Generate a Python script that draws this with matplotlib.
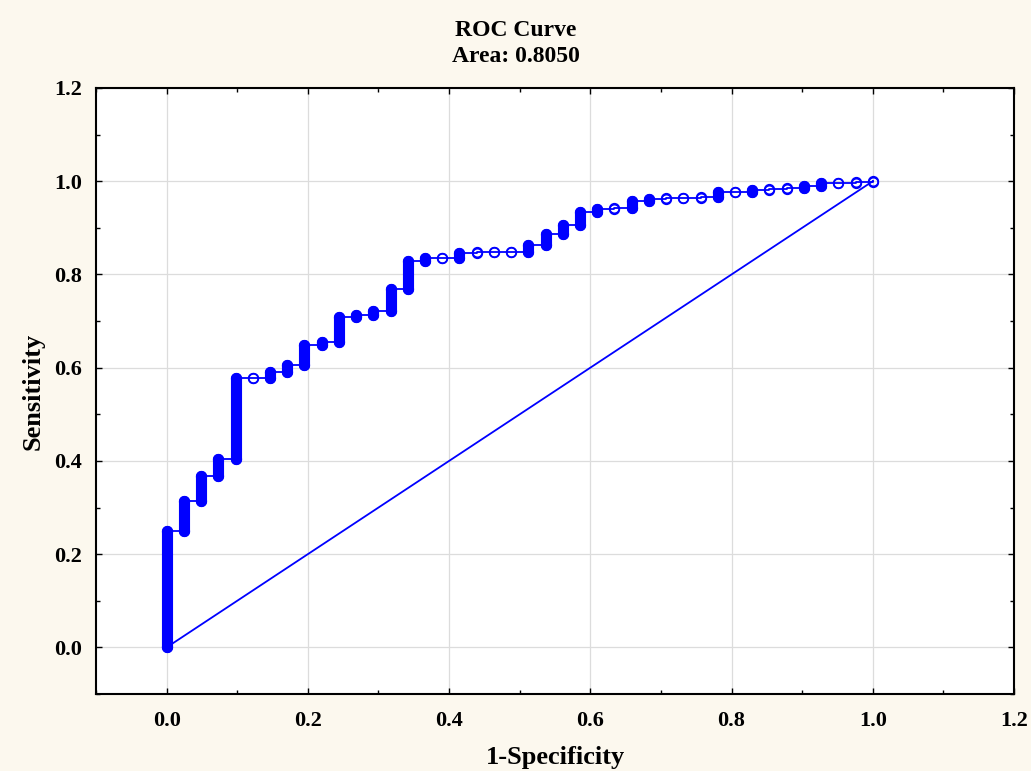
import matplotlib
matplotlib.use('Agg')
import matplotlib.pyplot as plt
import numpy as np
from matplotlib.ticker import MultipleLocator, FormatStrFormatter

# ---- data ----
n_neg = 41
fp_count = [0, 1, 2, 3, 4, 5, 6, 7, 8, 9, 10, 11, 12, 13, 14, 15, 16, 17, 18, 19, 20,
            21, 22, 23, 24, 25, 26, 27, 28, 29, 30, 31, 32, 33, 34, 35, 36, 37, 38, 39, 40, 41]
# sensitivity reached at each false-positive count (top of each vertical step)
sens_top = [0.250, 0.313, 0.368, 0.404, 0.577, 0.577, 0.590, 0.605, 0.649, 0.655,
            0.708, 0.713, 0.722, 0.768, 0.828, 0.835, 0.835, 0.845, 0.848, 0.848,
            0.848, 0.864, 0.886, 0.906, 0.935, 0.941, 0.943, 0.958, 0.962, 0.964,
            0.964, 0.966, 0.976, 0.976, 0.981, 0.983, 0.986, 0.990, 0.996, 0.996,
            0.998, 1.000]
area_text = "Area: 0.8050"
title_text = "ROC Curve"
x_label = "1-Specificity"
y_label = "Sensitivity"
ref_x = [0.0, 1.0]
ref_y = [0.0, 1.0]

blue = '#0000FF'
plt.rcParams['font.family'] = ['Liberation Serif', 'DejaVu Serif']
plt.rcParams['font.weight'] = 'bold'

W, H = 1031, 771
fig = plt.figure(figsize=(W / 100, H / 100), dpi=100, facecolor='#FCF8EE')
ax = fig.add_axes([96 / W, 1 - 694 / H, (1014 - 96) / W, (694 - 88) / H])
ax.set_facecolor('white')

x = np.array(fp_count) / n_neg
top = np.array(sens_top)
bot = np.concatenate([[0.0], top[:-1]])
xs = np.repeat(x, 2)
ys = np.column_stack([bot, top]).ravel()

ax.plot(ref_x, ref_y, color=blue, lw=1.3, zorder=3)
ax.plot(xs, ys, color=blue, lw=1.3, zorder=3)
for xi, b, t in zip(x, bot, top):
    if t - b > 0.004:
        ax.plot([xi, xi], [b, t], color=blue, lw=8.0, solid_capstyle='round', zorder=4)
ax.plot(xs, ys, ls='none', marker='o', ms=6.9, mfc='none', mec=blue, mew=1.2, zorder=5)

ax.set_xlim(-0.1, 1.2)
ax.set_ylim(-0.1, 1.2)
ax.xaxis.set_major_locator(MultipleLocator(0.2))
ax.xaxis.set_minor_locator(MultipleLocator(0.1))
ax.yaxis.set_major_locator(MultipleLocator(0.2))
ax.yaxis.set_minor_locator(MultipleLocator(0.1))
ax.xaxis.set_major_formatter(FormatStrFormatter('%.1f'))
ax.yaxis.set_major_formatter(FormatStrFormatter('%.1f'))
ax.grid(True, which='major', color='#DCDCDC', lw=0.9, zorder=0)
ax.set_axisbelow(True)
ax.tick_params(which='both', direction='in', top=True, right=True, width=1.0, color='black')
ax.tick_params(which='major', length=4, labelsize=16, pad=12)
ax.tick_params(which='minor', length=3)
ax.tick_params(axis='y', which='major', pad=10)
for lab in ax.get_xticklabels() + ax.get_yticklabels():
    lab.set_fontweight('bold')
for s in ax.spines.values():
    s.set_linewidth(1.5)
    s.set_color('black')

ax.set_xlabel(x_label, fontsize=19, fontweight='bold', labelpad=11)
ax.set_ylabel(y_label, fontsize=19, fontweight='bold', labelpad=7)

fig.text(0.5, 1 - 30 / H, title_text, ha='center', va='center', fontsize=17, fontweight='bold')
fig.text(0.5, 1 - 57 / H, area_text, ha='center', va='center', fontsize=17, fontweight='bold')

fig.savefig('out.png', dpi=100, facecolor=fig.get_facecolor())
